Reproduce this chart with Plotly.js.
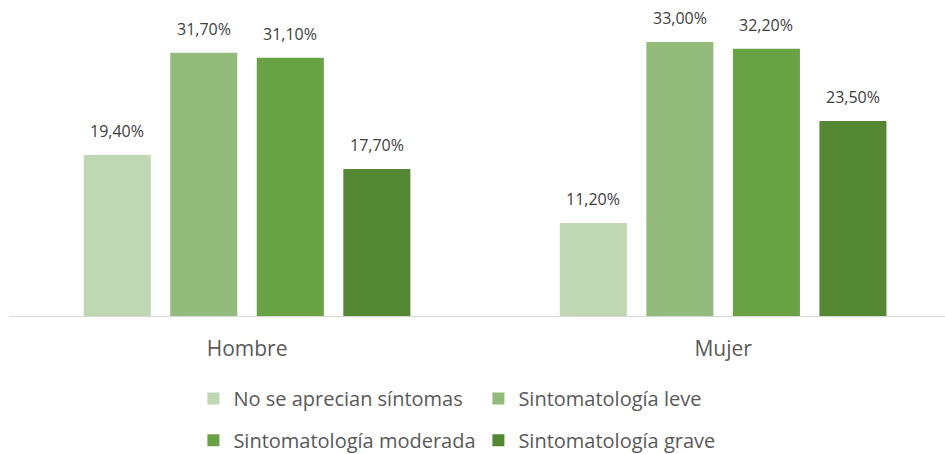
<html lang="es">
  <head>
    <meta charset="UTF-8" />
    <script src="https://cdn.plot.ly/plotly-3.0.1.min.js"></script>
    <title>Sintomatología por sexo</title>
  </head>
  <body style="margin:0">
    <div id="chart" style="width: 945px; height: 454px;"></div>
    <script>
      // categories and series
      const categories = ['Hombre', 'Mujer'];
      const seriesNames = [
        'No se aprecian síntomas',
        'Sintomatología leve',
        'Sintomatología moderada',
        'Sintomatología grave'
      ];
      const noSintomas = [19.4, 11.2];
      const leve = [31.7, 33.0];
      const moderada = [31.1, 32.2];
      const grave = [17.7, 23.5];
      const seriesValues = [noSintomas, leve, moderada, grave];
      const colors = ['#c0d7b4', '#93bc7c', '#69a244', '#548835'];

      const fontFam = 'Open Sans, Noto Sans, sans-serif';
      const fmt = v => v.toFixed(2).replace('.', ',') + '%';

      const traces = seriesNames.map((name, i) => ({
        type: 'bar',
        name: name,
        x: categories,
        y: seriesValues[i],
        marker: { color: colors[i] },
        legend: i < 2 ? 'legend' : 'legend2',
        hoverinfo: 'none'
      }));

      // data labels above each bar (offset within the group)
      const bargap = 0.273;
      const slot = (1 - bargap) / seriesNames.length;
      const annotations = [];
      seriesValues.forEach((vals, i) => {
        vals.forEach((v, c) => {
          annotations.push({
            x: c + (i - 1.5) * slot,
            y: v,
            xref: 'x',
            yref: 'y',
            text: fmt(v),
            showarrow: false,
            yanchor: 'bottom',
            yshift: 11,
            font: { family: fontFam, size: 16, color: '#404040' }
          });
        });
      });

      const legendCommon = {
        orientation: 'h',
        xanchor: 'left',
        yanchor: 'top',
        xref: 'paper',
        yref: 'container',
        x: 0.197,
        entrywidth: 240,
        itemwidth: 30,
        font: { family: fontFam, size: 20, color: '#595959' },
        bgcolor: 'rgba(0,0,0,0)'
      };

      const layout = {
        width: 945,
        height: 454,
        margin: { l: 9, r: 0, t: 0, b: 138 },
        paper_bgcolor: '#ffffff',
        plot_bgcolor: '#ffffff',
        barmode: 'group',
        bargap: bargap,
        bargroupgap: 0.225,
        xaxis: {
          type: 'category',
          range: [-0.5, 1.466],
          showline: true,
          linecolor: '#d9d9d9',
          linewidth: 1,
          ticks: 'outside',
          ticklen: 14,
          tickcolor: 'rgba(0,0,0,0)',
          tickfont: { family: fontFam, size: 21, color: '#595959' },
          showgrid: false,
          zeroline: false,
          automargin: false
        },
        yaxis: {
          range: [0, 38.07],
          visible: false,
          showgrid: false,
          zeroline: false
        },
        legend: Object.assign({}, legendCommon, { y: 0.165 }),
        legend2: Object.assign({}, legendCommon, { y: 0.073 }),
        annotations: annotations
      };

      Plotly.newPlot('chart', traces, layout, { displayModeBar: false, staticPlot: true });
    </script>
  </body>
</html>
